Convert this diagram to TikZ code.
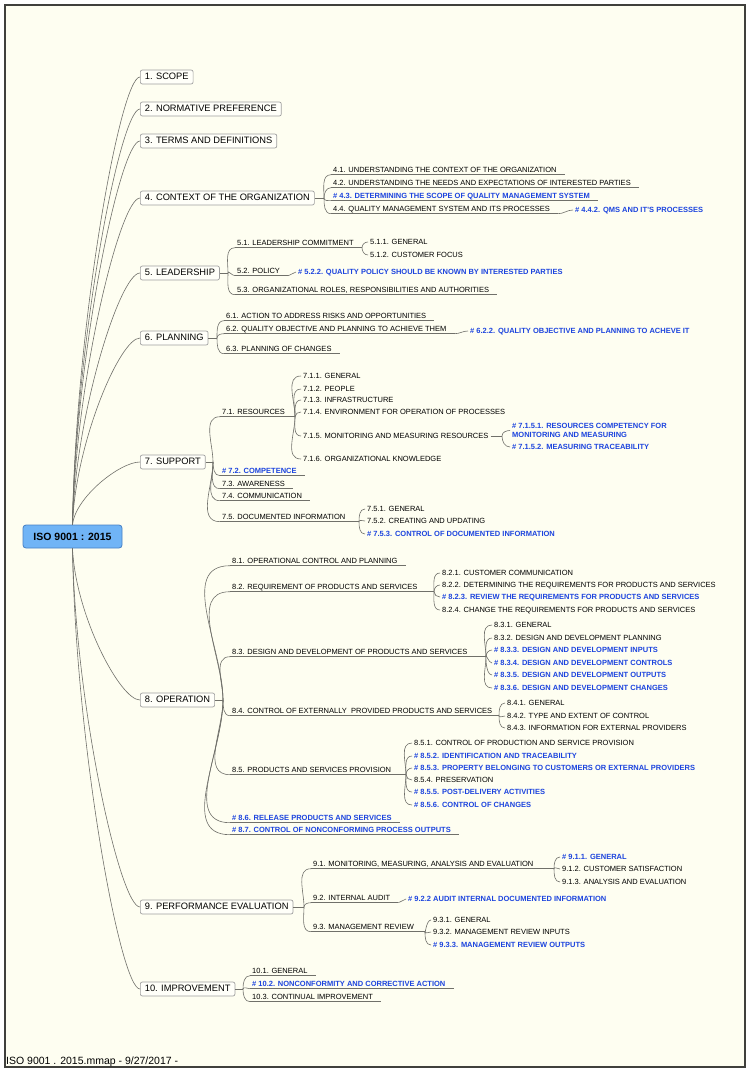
\documentclass[tikz,border=0pt]{standalone}
\usepackage{fontspec}
\setmainfont{Liberation Sans}
\usetikzlibrary{calc}
\definecolor{paper}{RGB}{254,254,241}
\definecolor{framegray}{RGB}{64,64,60}
\definecolor{linkgray}{RGB}{112,112,106}
\definecolor{isoblue}{RGB}{28,68,222}
\definecolor{rootfill}{RGB}{112,180,246}
\definecolor{rootedge}{RGB}{70,128,196}
\tikzset{
  link/.style={draw=linkgray, line width=0.6pt},
  root/.style={draw=rootedge, fill=rootfill, rounded corners=3pt, line width=0.8pt,
    font=\fontsize{10.5}{12}\selectfont\bfseries, minimum width=99pt, minimum height=23pt, inner sep=0pt},
  main/.style={draw=gray!75, fill=white!60!paper, rounded corners=2pt, line width=0.7pt, anchor=west,
    font=\fontsize{9.3}{11}\selectfont, text height=7pt, text depth=2pt, inner xsep=4.5pt, inner ysep=2.5pt},
  sub/.style={anchor=west, font=\fontsize{7.5}{9}\selectfont, text height=5.5pt, text depth=1.5pt,
    inner xsep=2pt, inner ysep=1pt},
  hot/.style={text=isoblue, font=\fontsize{7.5}{9}\selectfont\bfseries},
  goup/.style={out=90, in=180},
  godown/.style={out=-90, in=180},
  goflat/.style={out=0, in=180},
}

\begin{document}
\begin{tikzpicture}[x=1pt, y=1pt]
  \useasboundingbox (0,0) rectangle (750,-1073);
  \fill[white] (0,0) rectangle (750,-1073);
  \fill[paper] (5,-5) rectangle (745,-1067);
  \draw[framegray, line width=1.6pt] (5,-5) rectangle (745,-1067);

  \node[root] (iso) at (72.5,-536.5) {ISO 9001 : 2015};

  \node[main] (s1) at (140,-77) {1. SCOPE};
  \node[main] (s2) at (140,-109) {2. NORMATIVE PREFERENCE};
  \node[main] (s3) at (140,-141) {3. TERMS AND DEFINITIONS};
  \node[main] (s4) at (140,-198) {4. CONTEXT OF THE ORGANIZATION};
  \node[main] (s5) at (140,-273) {5. LEADERSHIP};
  \node[main] (s6) at (140,-338) {6. PLANNING};
  \node[main] (s7) at (140,-462) {7. SUPPORT};
  \node[main] (s8) at (140,-700) {8. OPERATION};
  \node[main] (s9) at (140,-907) {9. PERFORMANCE EVALUATION};
  \node[main] (s10) at (140,-989) {10. IMPROVEMENT};

  \foreach \s in {s1,s2,s3,s4,s5,s6,s7}
    \draw[link] let \p1=(iso.north), \p2=(\s.west) in
      (\p1) .. controls +(3,{0.44*((\y2)-(\y1))}) and +(-20,0) .. (\p2);
  \foreach \s in {s8,s9,s10}
    \draw[link] let \p1=(iso.south), \p2=(\s.west) in
      (\p1) .. controls +(3,{0.44*((\y2)-(\y1))}) and +(-20,0) .. (\p2);

  % 4
  \node[sub] (c41) at (331,-170) {4.1. UNDERSTANDING THE CONTEXT OF THE ORGANIZATION};
  \node[sub] (c42) at (331,-183) {4.2. UNDERSTANDING THE NEEDS AND EXPECTATIONS OF INTERESTED PARTIES};
  \node[sub,hot] (c43) at (331,-196) {\# 4.3. DETERMINING THE SCOPE OF QUALITY MANAGEMENT SYSTEM};
  \node[sub] (c44) at (331,-209) {4.4. QUALITY MANAGEMENT SYSTEM AND ITS PROCESSES};
  \node[sub,hot] (c442) at (573,-210) {\# 4.4.2. QMS AND IT'S PROCESSES};

  % 5
  \node[sub] (c51) at (235,-243) {5.1. LEADERSHIP COMMITMENT};
  \node[sub] (c52) at (235,-271) {5.2. POLICY};
  \node[sub] (c53) at (235,-290) {5.3. ORGANIZATIONAL ROLES, RESPONSIBILITIES AND AUTHORITIES};
  \node[sub] (c511) at (368,-242) {5.1.1. GENERAL};
  \node[sub] (c512) at (368,-255) {5.1.2. CUSTOMER FOCUS};
  \node[sub,hot] (c522) at (296,-272) {\# 5.2.2. QUALITY POLICY SHOULD BE KNOWN BY INTERESTED PARTIES};

  % 6
  \node[sub] (c61) at (224,-316) {6.1. ACTION TO ADDRESS RISKS AND OPPORTUNITIES};
  \node[sub] (c62) at (224,-329) {6.2. QUALITY OBJECTIVE AND PLANNING TO ACHIEVE THEM};
  \node[sub] (c63) at (224,-349) {6.3. PLANNING OF CHANGES};
  \node[sub,hot] (c622) at (468,-331) {\# 6.2.2. QUALITY OBJECTIVE AND PLANNING TO ACHEVE IT};

  % 7
  \node[sub] (c71) at (220,-412) {7.1. RESOURCES};
  \node[sub,hot] (c72) at (220,-471) {\# 7.2. COMPETENCE};
  \node[sub] (c73) at (220,-484) {7.3. AWARENESS};
  \node[sub] (c74) at (220,-496) {7.4. COMMUNICATION};
  \node[sub] (c75) at (220,-517) {7.5. DOCUMENTED INFORMATION};
  \node[sub] (c711) at (301,-376) {7.1.1. GENERAL};
  \node[sub] (c712) at (301,-389) {7.1.2. PEOPLE};
  \node[sub] (c713) at (301,-400) {7.1.3. INFRASTRUCTURE};
  \node[sub] (c714) at (301,-412) {7.1.4. ENVIRONMENT FOR OPERATION OF PROCESSES};
  \node[sub] (c715) at (301,-436) {7.1.5. MONITORING AND MEASURING RESOURCES};
  \node[sub] (c716) at (301,-459) {7.1.6. ORGANIZATIONAL KNOWLEDGE};
  \node[sub,hot,align=left,text height={},text depth={}] (c7151) at (510,-430.5)
    {\# 7.1.5.1. RESOURCES COMPETENCY FOR\\MONITORING AND MEASURING};
  \node[sub,hot] (c7152) at (510,-447) {\# 7.1.5.2. MEASURING TRACEABILITY};
  \node[sub] (c751) at (365,-509) {7.5.1. GENERAL};
  \node[sub] (c752) at (365,-521) {7.5.2. CREATING AND UPDATING};
  \node[sub,hot] (c753) at (365,-534) {\# 7.5.3. CONTROL OF DOCUMENTED INFORMATION};

  % 8
  \node[sub] (c81) at (230,-561) {8.1. OPERATIONAL CONTROL AND PLANNING};
  \node[sub] (c82) at (230,-587) {8.2. REQUIREMENT OF PRODUCTS AND SERVICES};
  \node[sub] (c83) at (230,-652) {8.3. DESIGN AND DEVELOPMENT OF PRODUCTS AND SERVICES};
  \node[sub] (c84) at (230,-711) {8.4. CONTROL OF EXTERNALLY\ \ PROVIDED PRODUCTS AND SERVICES};
  \node[sub] (c85) at (230,-770) {8.5. PRODUCTS AND SERVICES PROVISION};
  \node[sub,hot] (c86) at (230,-818) {\# 8.6. RELEASE PRODUCTS AND SERVICES};
  \node[sub,hot] (c87) at (230,-830) {\# 8.7. CONTROL OF NONCONFORMING PROCESS OUTPUTS};
  \node[sub] (c821) at (440,-573) {8.2.1. CUSTOMER COMMUNICATION};
  \node[sub] (c822) at (440,-585) {8.2.2. DETERMINING THE REQUIREMENTS FOR PRODUCTS AND SERVICES};
  \node[sub,hot] (c823) at (440,-597) {\# 8.2.3. REVIEW THE REQUIREMENTS FOR PRODUCTS AND SERVICES};
  \node[sub] (c824) at (440,-610) {8.2.4. CHANGE THE REQUIREMENTS FOR PRODUCTS AND SERVICES};
  \node[sub] (c831) at (492,-625) {8.3.1. GENERAL};
  \node[sub] (c832) at (492,-638) {8.3.2. DESIGN AND DEVELOPMENT PLANNING};
  \node[sub,hot] (c833) at (492,-650) {\# 8.3.3. DESIGN AND DEVELOPMENT INPUTS};
  \node[sub,hot] (c834) at (492,-663) {\# 8.3.4. DESIGN AND DEVELOPMENT CONTROLS};
  \node[sub,hot] (c835) at (492,-675) {\# 8.3.5. DESIGN AND DEVELOPMENT OUTPUTS};
  \node[sub,hot] (c836) at (492,-688) {\# 8.3.6. DESIGN AND DEVELOPMENT CHANGES};
  \node[sub] (c841) at (505,-703) {8.4.1. GENERAL};
  \node[sub] (c842) at (505,-716) {8.4.2. TYPE AND EXTENT OF CONTROL};
  \node[sub] (c843) at (505,-728) {8.4.3. INFORMATION FOR EXTERNAL PROVIDERS};
  \node[sub] (c851) at (412,-743) {8.5.1. CONTROL OF PRODUCTION AND SERVICE PROVISION};
  \node[sub,hot] (c852) at (412,-756) {\# 8.5.2. IDENTIFICATION AND TRACEABILITY};
  \node[sub,hot] (c853) at (412,-768) {\# 8.5.3. PROPERTY BELONGING TO CUSTOMERS OR EXTERNAL PROVIDERS};
  \node[sub] (c854) at (412,-780) {8.5.4. PRESERVATION};
  \node[sub,hot] (c855) at (412,-792) {\# 8.5.5. POST-DELIVERY ACTIVITIES};
  \node[sub,hot] (c856) at (412,-805) {\# 8.5.6. CONTROL OF CHANGES};

  % 9
  \node[sub] (c91) at (311,-864) {9.1. MONITORING, MEASURING, ANALYSIS AND EVALUATION};
  \node[sub] (c92) at (311,-898) {9.2. INTERNAL AUDIT};
  \node[sub] (c93) at (311,-927) {9.3. MANAGEMENT REVIEW};
  \node[sub,hot] (c911) at (560,-857) {\# 9.1.1. GENERAL};
  \node[sub] (c912) at (560,-869) {9.1.2. CUSTOMER SATISFACTION};
  \node[sub] (c913) at (560,-882) {9.1.3. ANALYSIS AND EVALUATION};
  \node[sub,hot] (c922) at (406,-899) {\# 9.2.2 AUDIT INTERNAL DOCUMENTED INFORMATION};
  \node[sub] (c931) at (431,-920) {9.3.1. GENERAL};
  \node[sub] (c932) at (431,-932) {9.3.2. MANAGEMENT REVIEW INPUTS};
  \node[sub,hot] (c933) at (431,-945) {\# 9.3.3. MANAGEMENT REVIEW OUTPUTS};

  % 10
  \node[sub] (c101) at (250,-971) {10.1. GENERAL};
  \node[sub,hot] (c102) at (250,-984) {\# 10.2. NONCONFORMITY AND CORRECTIVE ACTION};
  \node[sub] (c103) at (250,-997) {10.3. CONTINUAL IMPROVEMENT};

  % junctions
  \path (s4.east -| c41.south west) ++(-7,0) coordinate (j4);
  \path (s5.east -| c51.south west) ++(-7,0) coordinate (j5);
  \path (s6.east -| c61.south west) ++(-7,0) coordinate (j6);
  \path (s7.east -| c71.south west) ++(-7,0) coordinate (j7);
  \path (s8.east -| c81.south west) ++(-7,0) coordinate (j8);
  \path (s9.east -| c91.south west) ++(-7,0) coordinate (j9);
  \path (s10.east -| c101.south west) ++(-7,0) coordinate (j10);
  \foreach \n in {4,...,10} \draw[link] (s\n.east) -- (j\n);

  \path (c51.south -| c511.west) ++(-6,0) coordinate (j51);
  \path (c71.south -| c711.west) ++(-6,0) coordinate (j71);
  \path (c75.south -| c751.west) ++(-6,0) coordinate (j75);
  \path (c82.south -| c821.west) ++(-6,0) coordinate (j82);
  \path (c83.south -| c831.west) ++(-6,0) coordinate (j83);
  \path (c84.south -| c841.west) ++(-6,0) coordinate (j84);
  \path (c85.south -| c851.west) ++(-6,0) coordinate (j85);
  \path (c91.south -| c911.west) ++(-6,0) coordinate (j91);
  \path (c93.south -| c931.west) ++(-6,0) coordinate (j93);
  \path (c715.west -| c7151.west) ++(-8,0) coordinate (j715);

  % underlines
  \foreach \c in {c41,c42,c43,c44,c52,c53,c61,c62,c63,c72,c73,c74,c81,c86,c87,c92,c101,c102,c103}
    \draw[link] (\c.south west) -- ([xshift=6pt]\c.south east);
  \foreach \c in {51,71,75,82,83,84,85,91,93}
    \draw[link] (c\c.south west) -- (j\c);
  \draw[link] (c715.east) -- (j715);

  % branches
  \foreach \c in {c41,c42} \draw[link] (j4) to[goup] (\c.south west);
  \foreach \c in {c43,c44} \draw[link] (j4) to[godown] (\c.south west);
  \foreach \c in {c51,c52} \draw[link] (j5) to[goup] (\c.south west);
  \draw[link] (j5) to[godown] (c53.south west);
  \foreach \c in {c61,c62} \draw[link] (j6) to[goup] (\c.south west);
  \draw[link] (j6) to[godown] (c63.south west);
  \draw[link] (j7) to[goup] (c71.south west);
  \foreach \c in {c72,c73,c74,c75} \draw[link] (j7) to[godown] (\c.south west);
  \foreach \c in {c81,c82,c83} \draw[link] (j8) to[goup] (\c.south west);
  \foreach \c in {c84,c85,c86,c87} \draw[link] (j8) to[godown] (\c.south west);
  \foreach \c in {c91,c92} \draw[link] (j9) to[goup] (\c.south west);
  \draw[link] (j9) to[godown] (c93.south west);
  \foreach \c in {c101,c102} \draw[link] (j10) to[goup] (\c.south west);
  \draw[link] (j10) to[godown] (c103.south west);

  \draw[link] (j51) to[goup] (c511.west);
  \draw[link] (j51) to[godown] (c512.west);
  \foreach \c in {c711,c712,c713,c714} \draw[link] (j71) to[goup] (\c.west);
  \foreach \c in {c715,c716} \draw[link] (j71) to[godown] (\c.west);
  \draw[link] (j715) to[goup] (c7151.west);
  \draw[link] (j715) to[godown] (c7152.west);
  \foreach \c in {c751,c752} \draw[link] (j75) to[goup] (\c.west);
  \draw[link] (j75) to[godown] (c753.west);
  \foreach \c in {c821,c822} \draw[link] (j82) to[goup] (\c.west);
  \foreach \c in {c823,c824} \draw[link] (j82) to[godown] (\c.west);
  \foreach \c in {c831,c832,c833,c834,c835} \draw[link] (j83) to[goup] (\c.west);
  \draw[link] (j83) to[godown] (c836.west);
  \draw[link] (j84) to[goup] (c841.west);
  \foreach \c in {c842,c843} \draw[link] (j84) to[godown] (\c.west);
  \foreach \c in {c851,c852,c853} \draw[link] (j85) to[goup] (\c.west);
  \foreach \c in {c854,c855,c856} \draw[link] (j85) to[godown] (\c.west);
  \foreach \c in {c911,c912} \draw[link] (j91) to[goup] (\c.west);
  \draw[link] (j91) to[godown] (c913.west);
  \foreach \c in {c931,c932,c933} \draw[link] (j93) to[godown] (\c.west);

  \draw[link] ([xshift=6pt]c44.south east) to[goflat] (c442.west);
  \draw[link] ([xshift=6pt]c52.south east) to[goflat] (c522.west);
  \draw[link] ([xshift=6pt]c62.south east) to[goflat] (c622.west);
  \draw[link] ([xshift=6pt]c92.south east) to[goflat] (c922.west);

  \node[anchor=base west, font=\fontsize{10.5}{12}\selectfont, inner sep=0pt] (foot) at (6,-1064)
    {ISO 9001 . 2015.mmap - 9/27/2017 -};
\end{tikzpicture}
\end{document}
